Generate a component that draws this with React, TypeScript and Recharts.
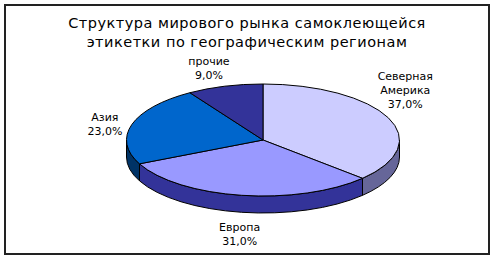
import { Pie, PieChart } from 'recharts'

// Регионы, доли рынка (%) и цвета срезов
const regions = ['Северная Америка', 'Европа', 'Азия', 'прочие']
const shares = [37, 31, 23, 9]
const topColors = ['#CCCCFF', '#9999FF', '#0066CC', '#333399']
const sideColors = ['#666699', '#333399', '#003366', '#1F1F66']
const titleLines = ['Структура мирового рынка самоклеющейся', 'этикетки по географическим регионам']

// label nudges, px, relative to the rim point at the slice's mid angle
const labelNudge = [
  [17, -28],
  [-2, 39],
  [-27, 0],
  [-16, -18],
]

const TILT = 56 / 136.5
const DEPTH = 17
const RAD = Math.PI / 180
const FONT = '"DejaVu Sans", Verdana, sans-serif'

const data = regions.map((name, i) => ({
  name,
  value: shares[i],
  fill: topColors[i],
  side: sideColors[i],
}))

function rim(cx: number, cy: number, rx: number, ry: number, a: number): [number, number] {
  return [cx + rx * Math.cos(a * RAD), cy - ry * Math.sin(a * RAD)]
}

/** Draws one slice as a tilted (elliptic) sector with its front wall. */
function Slice3D(props: any) {
  const { cx, cy, outerRadius, startAngle, endAngle, fill, payload } = props
  const rx = outerRadius
  const ry = outerRadius * TILT
  const hi = Math.max(startAngle, endAngle)
  const lo = Math.min(startAngle, endAngle)
  const [x1, y1] = rim(cx, cy, rx, ry, startAngle)
  const [x2, y2] = rim(cx, cy, rx, ry, endAngle)
  const large = Math.abs(endAngle - startAngle) > 180 ? 1 : 0
  const sweep = startAngle > endAngle ? 1 : 0
  const top = `M${cx},${cy} L${x1},${y1} A${rx},${ry} 0 ${large} ${sweep} ${x2},${y2} Z`

  // the visible wall is the part of the arc lying in the front half (-180..0)
  const walls: string[] = []
  for (const off of [0, -360, 360]) {
    const a = Math.min(hi, off)
    const b = Math.max(lo, off - 180)
    if (a > b) {
      const [ax, ay] = rim(cx, cy, rx, ry, a)
      const [bx, by] = rim(cx, cy, rx, ry, b)
      walls.push(
        `M${ax},${ay} A${rx},${ry} 0 0 1 ${bx},${by} L${bx},${by + DEPTH} A${rx},${ry} 0 0 0 ${ax},${ay + DEPTH} Z`,
      )
    }
  }

  return (
    <g>
      {walls.map((d, i) => (
        <path key={i} d={d} fill={payload?.side ?? fill} stroke="#000" strokeWidth={1} />
      ))}
      <path d={top} fill={fill} stroke="#000" strokeWidth={1} />
    </g>
  )
}

function SliceLabel(props: any) {
  const { cx, cy, outerRadius, midAngle, index, name, value } = props
  const [px, py] = rim(cx, cy, outerRadius, outerRadius * TILT, midAngle)
  const [dx, dy] = labelNudge[index]
  const lines = [...String(name).split(' '), `${value.toFixed(1).replace('.', ',')}%`]
  const lh = 14
  // +4 shifts the baseline so each line is centred on its slot
  const y0 = py + dy - ((lines.length - 1) * lh) / 2 + 4
  return (
    <text x={px + dx} y={y0} textAnchor="middle" fontFamily={FONT} fontSize={11} fill="#000">
      {lines.map((l, i) => (
        <tspan key={i} x={px + dx} y={y0 + i * lh}>
          {l}
        </tspan>
      ))}
    </text>
  )
}

export default function App() {
  return (
    <div
      style={{
        position: 'absolute',
        left: 0,
        top: 0,
        width: 492,
        height: 259,
        background: '#fff',
      }}
    >
      <div
        style={{
          position: 'absolute',
          left: 4,
          top: 4,
          width: 482,
          height: 247,
          border: '2px solid #222',
        }}
      />
      <div
        style={{
          position: 'absolute',
          left: 0,
          top: 14,
          width: 494,
          textAlign: 'center',
          fontFamily: FONT,
          fontSize: 14.5,
          letterSpacing: 0.5,
          lineHeight: '19px',
          color: '#000',
        }}
      >
        {titleLines.map((t) => (
          <div key={t}>{t}</div>
        ))}
      </div>
      <div style={{ position: 'absolute', left: 0, top: 0 }}>
        <PieChart width={492} height={259} margin={{ top: 0, right: 0, bottom: 0, left: 0 }}>
          <Pie
            data={data}
            dataKey="value"
            nameKey="name"
            cx={263}
            cy={140}
            outerRadius={136.5}
            startAngle={90}
            endAngle={-270}
            stroke="#000"
            shape={Slice3D}
            activeShape={Slice3D}
            inactiveShape={Slice3D}
            label={SliceLabel}
            labelLine={false}
            isAnimationActive={false}
          />
        </PieChart>
      </div>
    </div>
  )
}
